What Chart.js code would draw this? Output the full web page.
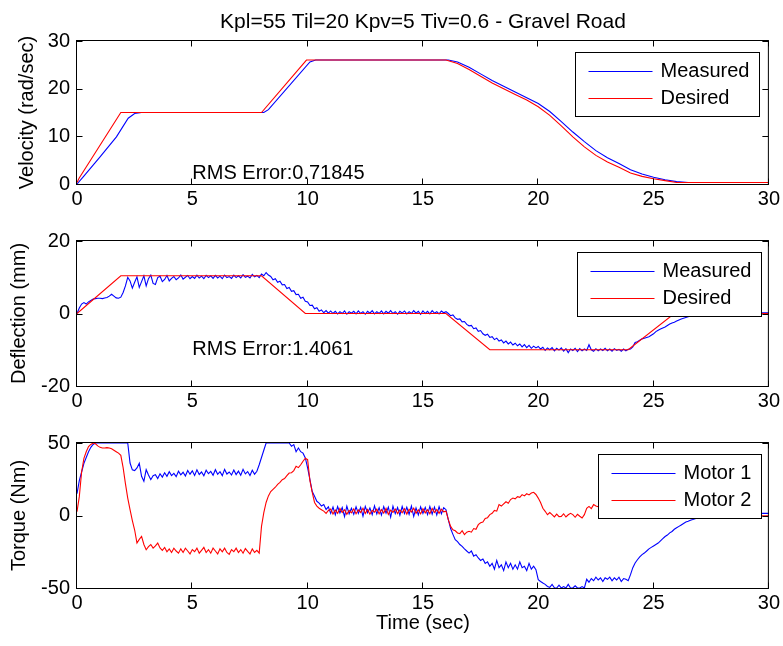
<!DOCTYPE html>
<html>
<head>
<meta charset="utf-8">
<script src="https://cdn.jsdelivr.net/npm/chart.js@4/dist/chart.umd.min.js"></script>
<style>
  html, body { margin: 0; padding: 0; background: #fff; }
  #fig { position: relative; width: 783px; height: 646px; background: #fff; overflow: hidden; }
  #fig canvas { position: absolute; left: 0; }
</style>
</head>
<body>
<div id="fig">
  <canvas id="cVel" width="783" height="212" style="top:0px"></canvas>
  <canvas id="cDef" width="783" height="202" style="top:212px"></canvas>
  <canvas id="cTrq" width="783" height="232" style="top:414px"></canvas>
</div>
<script>
// ---------- Velocity (rad/sec) ----------
const velDesT = [0, 0.09, 1.9, 8.0, 9.95, 16.0, 16.5, 17, 17.5, 18, 18.5, 19, 19.5, 20, 20.5,
                 21, 21.5, 22, 22.5, 23, 23.5, 24, 24.5, 25, 25.5, 26, 30];
const velDes  = [0.3, 1.2, 15, 15, 26, 26, 25.3, 24, 22.6, 21.2, 20, 18.8, 17.6, 16.2, 14.4,
                 12.2, 9.9, 7.8, 6.0, 4.6, 3.5, 2.3, 1.6, 1.1, 0.7, 0.3, 0.3];
const velMeasT = [0, 0.27, 1.0, 1.71, 2.22, 2.5, 2.8, 8.1, 8.3, 10.1, 10.35, 16.1, 16.5, 17, 17.5,
                  18, 18.5, 19, 19.5, 20, 20.5, 21, 21.5, 22, 22.5, 23, 23.5, 24, 24.5, 25, 25.5,
                  26, 26.5, 30];
const velMeas  = [0, 1.5, 5.7, 9.9, 13.8, 14.8, 15, 15, 15.6, 25.6, 26, 26, 25.6, 24.5, 23.1,
                  21.7, 20.5, 19.3, 18.1, 16.9, 15.2, 13.1, 10.9, 8.9, 7.0, 5.5, 4.3, 3.0, 2.1, 1.4, 0.9,
                  0.5, 0.3, 0.3];

// ---------- Deflection (mm) ----------
const defDesT = [0, 1.9, 8.0, 9.9, 16.0, 17.9, 23.9, 25.9, 30];
const defDes  = [0, 10.4, 10.4, 0, 0, -10, -10, 0, 0];

// measured signals are logged every 0.1 s from 0 to 30 s
const sampleTimes = Array.from({ length: 301 }, (_, i) => i / 10);

const defMeas = [
  0, 1.5, 2.6, 3.0, 2.6, 3.2, 3.6, 4.0, 4.1, 4.2,
  4.2, 4.1, 4.3, 4.4, 4.8, 5.3, 4.8, 4.3, 4.2, 4.5,
  5.8, 7.6, 10.0, 9.0, 7.0, 8.6, 10.1, 7.2, 8.8, 10.4,
  7.6, 9.6, 10.6, 8.3, 8.0, 9.9, 10.3, 8.8, 9.4, 10.5,
  9.0, 9.7, 10.2, 9.3, 9.8, 10.6, 9.5, 10.0, 10.5, 9.6,
  10.2, 9.7, 10.6, 9.8, 10.3, 9.6, 10.5, 9.9, 10.4, 9.7,
  10.5, 9.8, 10.3, 9.6, 10.6, 9.9, 10.2, 9.7, 10.6, 9.9,
  10.4, 9.8, 10.7, 10.0, 10.3, 9.8, 10.8, 10.1, 10.5, 9.9,
  10.9, 10.4, 11.3, 10.6, 10.2, 9.3, 9.6, 8.6, 8.9, 7.9,
  8.0, 6.9, 7.2, 6.1, 6.3, 5.2, 5.3, 4.2, 4.5, 3.4,
  3.2, 2.2, 2.3, 1.3, 1.6, 0.6, 1.0, 0.2, 0.8, 0.1,
  0.7, 0.0, 0.6, -0.1, 0.5, 0.0, 0.7, -0.2, 0.5, 0.1,
  0.6, -0.1, 0.7, 0.0, 0.5, -0.2, 0.6, 0.1, 0.8, -0.1,
  0.5, 0.0, 0.7, -0.1, 0.6, 0.1, 0.8, 0.0, 0.5, -0.2,
  0.6, 0.1, 0.7, -0.1, 0.5, 0.0, 0.8, 0.1, 0.6, -0.2,
  0.7, 0.0, 0.6, -0.1, 0.8, 0.1, 0.5, -0.1, 0.7, 0.2,
  0.5, 0.0, -0.6, -0.4, -1.2, -1.6, -1.5, -2.3, -2.2, -3.0,
  -3.4, -3.3, -4.2, -4.0, -4.9, -4.7, -5.6, -6.0, -5.7, -6.6,
  -6.4, -7.2, -6.8, -7.6, -7.3, -8.1, -7.6, -8.4, -7.9, -8.7,
  -8.2, -8.9, -8.4, -9.2, -8.6, -9.4, -8.8, -9.6, -9.0, -9.5,
  -9.1, -9.8, -9.3, -10.2, -9.5, -10.0, -9.4, -10.3, -9.6, -10.1,
  -9.5, -10.4, -9.7, -10.8, -9.8, -10.2, -9.6, -10.5, -9.7, -10.3,
  -9.8, -10.2, -8.6, -10.0, -10.4, -9.7, -10.3, -9.8, -10.2, -9.6,
  -10.3, -9.8, -10.4, -9.7, -10.2, -9.9, -10.4, -9.8, -10.3, -9.9,
  -9.8, -9.2, -8.0, -7.8, -7.4, -7.0, -6.8, -6.6, -6.4, -6.0,
  -5.6, -5.0, -4.6, -4.3, -4.0, -3.7, -3.3, -2.9, -2.6, -2.4,
  -2.1, -1.8, -1.5, -1.3, -1.1, -0.9, -0.7, -0.6, -0.5, -0.4,
  -0.3, -0.2, -0.2, -0.1, -0.1, 0.0, 0.0, 0.0, 0.1, 0.1,
  0.1, 0.1, 0.1, 0.1, 0.1, 0.1, 0.1, 0.1, 0.1, 0.1,
  0.1, 0.1, 0.1, 0.2, 0.2, 0.2, 0.2, 0.2, 0.2, 0.2,
  0.2
];

// ---------- Torque (Nm) ----------
const torqueM1 = [
  15, 24, 30, 36, 40, 44, 47, 49, 50, 50,
  50, 50, 50, 50, 50, 50, 50, 50, 50, 50,
  50, 50, 50, 36.2, 31.5, 31, 32.8, 36, 27, 23.6,
  31.6, 28, 24.7, 27.5, 28.2, 25.5, 28.8, 26.5, 29.5, 27.0,
  30.2, 27.5, 29.0, 26.8, 30.5, 28.0, 29.8, 27.2, 31.0, 28.5,
  30.8, 27.6, 31.5, 28.3, 30.0, 27.4, 31.2, 28.8, 30.4, 27.8,
  31.6, 28.4, 30.2, 27.5, 31.8, 28.6, 30.0, 27.9, 31.4, 28.2,
  30.6, 27.8, 31.9, 28.7, 30.3, 27.6, 31.2, 28.5, 30.5, 35,
  40, 45, 50, 50, 50, 50, 50, 50, 50, 50,
  50, 50, 50, 47.7, 48.9, 44, 46.6, 44, 43, 39.7,
  32.8, 24.7, 16.5, 13.2, 9.8, 8.5, 6.5, 7.5, 4.2, 6.0,
  1.5, 5.8, 0.5, 6.2, 1.8, 5.5, -0.8, 6.5, 1.2, 5.0,
  0.8, 6.0, 1.5, 5.6, -0.5, 6.3, 1.8, 5.2, 0.6, 6.6,
  1.0, 5.4, 0.3, 6.1, 1.6, 5.8, -1.2, 6.4, 1.3, 5.5,
  0.2, 6.2, 1.4, 5.7, 0.8, 6.5, -0.6, 5.3, 0.4, 6.0,
  1.5, 5.6, 0.6, 6.3, 1.0, 5.8, 0.3, 6.1, 1.2, 5.4,
  4.0, -2.9, -9.0, -13.0, -16.7, -18.0, -20.0, -21.3, -23.0, -24.5,
  -25.9, -24.5, -28.0, -27.0, -29.3, -31.0, -30.0, -33.0, -32.0, -35.0,
  -33, -37, -31, -36, -34, -38, -32, -36, -33, -37,
  -34, -37, -32, -36, -35, -38, -33, -37, -35, -37.4,
  -44.3, -45.5, -46.6, -47.5, -48.9, -49.5, -47.5, -49.8, -50, -48,
  -50, -49, -50, -47.5, -50, -50, -48.5, -50, -50, -49,
  -50, -44, -46, -43.5, -45, -42.5, -44.5, -43, -45.5, -43,
  -44, -42.5, -45, -43, -44.5, -42.5, -45.5, -43.5, -44, -45,
  -40.8, -36, -32.8, -30.5, -28.5, -27, -25.9, -24.5, -23, -22,
  -21, -20, -19, -17.5, -16, -14.5, -13.5, -12, -11, -9.5,
  -8.5, -7.5, -6.5, -5.5, -4.5, -4.0, -3.3, -2.8, -2.2, -1.7,
  -1.5, -1.2, -1.0, -0.8, -0.5, -0.3, 0.0, 0.2, 0.4, 0.5,
  0.6, 0.7, 0.8, 0.9, 1.0, 1.1, 1.2, 1.3, 1.4, 1.5,
  1.5, 1.5, 1.5, 1.5, 1.5, 1.5, 1.5, 1.5, 1.5, 1.5,
  1.5
];

const torqueM2 = [
  2.6, 13, 30, 39.4, 44, 47.5, 49, 50, 49.5, 48,
  47, 46.6, 46.6, 46.8, 46.6, 46, 45, 44, 43, 41.5,
  33, 22, 12, 4, -3.5, -10, -19, -16.5, -14.4, -20,
  -23.6, -21.5, -20, -22.5, -21, -19, -22.4, -24, -22, -25,
  -23, -25.5, -22.5, -24.5, -26, -23, -25.5, -22.5, -24.5, -26.5,
  -23.5, -25, -22.5, -26, -24, -22, -25.5, -23.5, -26, -22.5,
  -24.5, -26.5, -23, -25, -22.5, -25.5, -26.8, -23.5, -25, -22.5,
  -25.5, -23.5, -26, -22.8, -24.8, -26.5, -23, -25.5, -24, -25.9,
  -7.5, 2, 9, 13.5, 16.5, 18, 19.5, 21.5, 22.8, 24.7,
  25.5, 27.5, 29.3, 29.5, 31, 33.9, 33, 35, 37.4, 39.5,
  38.5, 24, 16, 9, 6.5, 5, 4, 3, 1.5, 3.5,
  4.5, 1.0, 3.8, 1.5, 4.8, 2.0, 4.0, 0.8, 3.5, 1.8,
  4.6, 1.2, 3.9, 2.1, 5.0, 1.4, 4.2, 0.9, 3.6, 2.3,
  4.4, 1.1, 4.1, 1.7, 4.9, 0.8, 3.7, 2.2, 4.5, 1.3,
  3.8, 1.9, 4.7, 1.0, 4.3, 2.4, 5.1, 1.5, 3.9, 1.1,
  4.6, 1.8, 4.0, 1.2, 4.8, 2.0, 4.2, 1.5, 4.4, 2.5,
  3, -2.9, -7.5, -9.8, -10.5, -12, -12.5, -10.5, -13.2, -11.5,
  -10.9, -11.5, -9, -9.5, -6.3, -5, -4.5, -2, -1.5, 0.6,
  1.5, 3.5, 3, 7.5, 6.5, 8, 9.5, 8.5, 11, 12,
  11.5, 13, 12.5, 14.4, 13.5, 15, 14.2, 15.5, 16, 14.5,
  12, 9, 5, 2.9, 0.5, 2, 0.6, -1, 1, -0.8,
  -0.6, 1.2, -1, 0.5, 1.5, 0.6, -1.2, 0.8, -0.5, -1.7,
  0.6, 5, 6.3, 4.8, 7.5, 6.5, 6, 5.5, 6, 5,
  5.5, 6, 5, 5.5, 5, 6, 5.5, 5, 5.5, 5,
  5.5, 5, 4.5, 5, 4, 4.5, 4, 3.5, 4, 3.5,
  3, 3.5, 3, 2.5, 3, 2.5, 2, 2.5, 2, 1.5,
  1.5, 1.2, 1, 0.8, 0.6, 0.5, 0.3, 0.2, 0.1, 0,
  -0.2, -0.2, -0.2, -0.2, -0.2, -0.2, -0.2, -0.2, -0.2, -0.2,
  -0.2, -0.2, -0.2, -0.2, -0.2, -0.2, -0.2, -0.2, -0.2, -0.2,
  -0.2, -0.2, -0.2, -0.2, -0.2, -0.2, -0.2, -0.2, -0.2, -0.2,
  -0.2
];

const timeTicks = [0, 5, 10, 15, 20, 25, 30];

// ---------- drawing ----------
const FONT = '"Liberation Sans", Arial, Helvetica, sans-serif';
const BLUE = '#0000ff';
const RED = '#ff0000';
const TICK = 6;

Chart.defaults.font.family = FONT;
Chart.defaults.font.size = 20;
Chart.defaults.color = '#000';

const pts = (ts, vs) => ts.map((t, i) => ({ x: t, y: vs[i] }));

function series(label, data, color, order) {
  return { label, data, borderColor: color, backgroundColor: color, borderWidth: 1.1,
           pointRadius: 0, tension: 0, fill: false, order };
}

// axes box, inward tick marks, in-plot note and boxed legend
const axesFrame = {
  id: 'axesFrame',
  afterDraw(chart, args, opts) {
    const { ctx, chartArea: a, scales } = chart;
    const xs = scales.x, ys = scales.y;
    const L = a.left - 0.5, R = a.right - 0.5, T = a.top - 0.5, B = a.bottom + 0.5;
    ctx.save();
    ctx.strokeStyle = '#000';
    ctx.lineWidth = 1;
    ctx.beginPath();
    xs.ticks.forEach(t => {
      const px = Math.round(xs.getPixelForValue(t.value)) - 0.5;
      ctx.moveTo(px, B); ctx.lineTo(px, B - TICK);
      ctx.moveTo(px, T); ctx.lineTo(px, T + TICK);
    });
    ys.ticks.forEach(t => {
      const py = Math.round(ys.getPixelForValue(t.value)) + 0.5;
      ctx.moveTo(L, py); ctx.lineTo(L + TICK, py);
      ctx.moveTo(R, py); ctx.lineTo(R - TICK, py);
    });
    ctx.stroke();
    ctx.strokeRect(L, T, R - L, B - T);

    ctx.font = '20px ' + FONT;
    ctx.fillStyle = '#000';
    ctx.textBaseline = 'middle';
    if (opts.note) {
      ctx.textAlign = 'left';
      ctx.fillText(opts.note.text, xs.getPixelForValue(opts.note.x), ys.getPixelForValue(opts.note.y));
    }

    const items = chart.data.datasets;
    const textW = Math.max(...items.map(d => ctx.measureText(d.label).width));
    const w = Math.round(85 + textW + 10), h = 64;
    const inset = opts.legendInset || 8;
    const bx = Math.round(a.right - inset - w) + 0.5, by = Math.round(a.top + 11) + 0.5;
    ctx.fillStyle = '#fff';
    ctx.fillRect(bx, by, w, h);
    ctx.strokeStyle = '#000';
    ctx.lineWidth = 1;
    ctx.strokeRect(bx, by, w, h);
    items.forEach((d, i) => {
      const ly = Math.round(by + 18 + i * 27.5) + 0.5;
      ctx.strokeStyle = d.borderColor;
      ctx.beginPath();
      ctx.moveTo(bx + 13, ly); ctx.lineTo(bx + 77, ly);
      ctx.stroke();
      ctx.fillStyle = '#000';
      ctx.textAlign = 'left';
      ctx.fillText(d.label, bx + 85, ly);
    });
    ctx.restore();
  }
};

function xAxis(height, withTitle) {
  return {
    type: 'linear', min: 0, max: 30,
    afterBuildTicks: s => { s.ticks = timeTicks.map(v => ({ value: v })); },
    grid: { display: false, drawTicks: false },
    border: { display: false },
    ticks: { padding: 3, maxRotation: 0, autoSkip: false, color: '#000' },
    title: withTitle
      ? { display: true, text: 'Time (sec)', color: '#000', padding: { top: 0, bottom: 11 } }
      : { display: false },
    afterFit: s => { s.height = height; }
  };
}

function yAxis(min, max, step, label, titlePad) {
  return {
    type: 'linear', min, max,
    grid: { display: false, drawTicks: false },
    border: { display: false },
    ticks: { stepSize: step, padding: 7, color: '#000' },
    title: { display: true, text: label, color: '#000', padding: { top: titlePad, bottom: 0 } },
    afterFit: s => { s.width = 77; }
  };
}

function makeChart(id, datasets, xOpts, yOpts, padTop, extra) {
  return new Chart(document.getElementById(id), {
    type: 'line',
    data: { datasets },
    options: {
      responsive: false,
      animation: false,
      events: [],
      layout: { padding: { left: 0, right: 12, top: padTop, bottom: 0 } },
      scales: { x: xOpts, y: yOpts },
      plugins: Object.assign({
        legend: { display: false },
        tooltip: { enabled: false },
        title: { display: false }
      }, extra)
    },
    plugins: [axesFrame]
  });
}

makeChart('cVel',
  [series('Measured', pts(velMeasT, velMeas), BLUE, 1),
   series('Desired', pts(velDesT, velDes), RED, 0)],
  xAxis(28, false),
  yAxis(0, 30, 10, 'Velocity (rad/sec)', 15.5),
  0,
  {
    title: { display: true, fullSize: false, text: 'Kpl=55 Til=20 Kpv=5 Tiv=0.6 - Gravel Road',
             color: '#000', font: { size: 21, weight: 'normal' }, padding: { top: 9.5, bottom: 6.3 } },
    axesFrame: { note: { text: 'RMS Error:0.71845', x: 5, y: 2.2 }, legendInset: 10 }
  });

makeChart('cDef',
  [series('Measured', pts(sampleTimes, defMeas), BLUE, 1),
   series('Desired', pts(defDesT, defDes), RED, 0)],
  xAxis(28, false),
  yAxis(-20, 20, 20, 'Deflection (mm)', 7.5),
  29,
  { axesFrame: { note: { text: 'RMS Error:1.4061', x: 5, y: -10 }, legendInset: 8 } });

makeChart('cTrq',
  [series('Motor 1', pts(sampleTimes, torqueM1), BLUE, 1),
   series('Motor 2', pts(sampleTimes, torqueM2), RED, 0)],
  xAxis(58, true),
  yAxis(-50, 50, 50, 'Torque (Nm)', 7.5),
  29,
  { axesFrame: { legendInset: 8 } });
</script>
</body>
</html>
